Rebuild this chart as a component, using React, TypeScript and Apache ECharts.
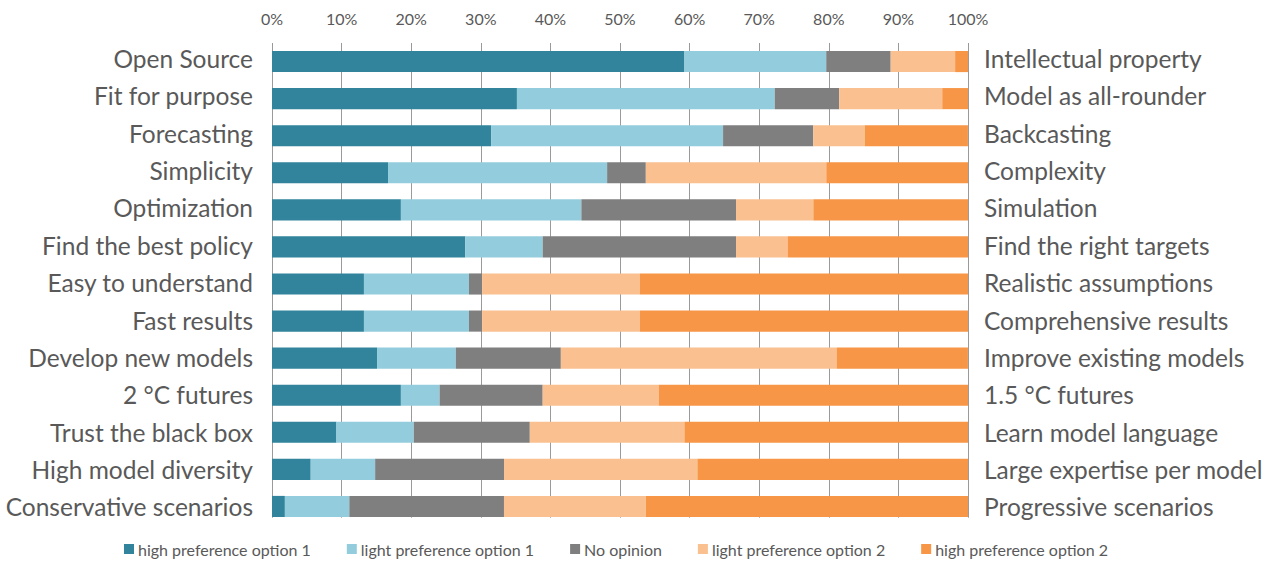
import React, { useEffect, useRef } from "react";
import * as echarts from "echarts";

const leftLabels = [
  "Open Source",
  "Fit for purpose",
  "Forecasting",
  "Simplicity",
  "Optimization",
  "Find the best policy",
  "Easy to understand",
  "Fast results",
  "Develop new models",
  "2 °C futures",
  "Trust the black box",
  "High model diversity",
  "Conservative scenarios",
];

const rightLabels = [
  "Intellectual property",
  "Model as all-rounder",
  "Backcasting",
  "Complexity",
  "Simulation",
  "Find the right targets",
  "Realistic assumptions",
  "Comprehensive results",
  "Improve existing models",
  "1.5 °C futures",
  "Learn model language",
  "Large expertise per model",
  "Progressive scenarios",
];

const tickLabels = ["0%", "10%", "20%", "30%", "40%", "50%", "60%", "70%", "80%", "90%", "100%"];

const seriesNames = [
  "high preference option 1",
  "light preference option 1",
  "No opinion",
  "light preference option 2",
  "high preference option 2",
];

// percentages per row (share of respondents)
const highPref1 = [59.26, 35.19, 31.48, 16.67, 18.52, 27.78, 13.21, 13.21, 15.09, 18.52, 9.26, 5.56, 1.85];
const lightPref1 = [20.37, 37.04, 33.33, 31.48, 25.93, 11.11, 15.09, 15.09, 11.32, 5.56, 11.11, 9.26, 9.26];
const noOpinion = [9.26, 9.26, 12.96, 5.56, 22.22, 27.78, 1.89, 1.89, 15.09, 14.81, 16.67, 18.52, 22.22];
const lightPref2 = [9.26, 14.81, 7.41, 25.93, 11.11, 7.41, 22.64, 22.64, 39.62, 16.67, 22.22, 27.78, 20.37];
const highPref2 = [1.85, 3.7, 14.81, 20.37, 22.22, 25.93, 47.17, 47.17, 18.87, 44.44, 40.74, 38.89, 46.3];

const colors = ["#31849B", "#93CDDD", "#7F7F7F", "#FAC090", "#F79646"];

const FONT = "Lato";

export default function App() {
  const ref = useRef<HTMLDivElement>(null);

  useEffect(() => {
    if (!ref.current) return;
    const chart = echarts.init(ref.current, undefined, { renderer: "svg" });
    const values = [highPref1, lightPref1, noOpinion, lightPref2, highPref2];
    const labelStyle = {
      fontFamily: FONT,
      fontSize: 24.5,
      color: "#595959",
      padding: [0, 0, 6, 0],
    };
    chart.setOption({
      animation: false,
      color: colors,
      textStyle: { fontFamily: FONT },
      grid: [
        { left: 272, right: 305, top: 43, bottom: 38 },
        { left: 272, right: 305, top: 43, bottom: 45.3 },
        { left: 272, right: 305, top: 39.8, bottom: 37.4 },
      ],
      legend: {
        left: 124,
        top: 541,
        padding: 0,
        itemWidth: 10,
        itemHeight: 10,
        itemGap: 36,
        icon: "rect",
        textStyle: { fontFamily: FONT, fontSize: 16, color: "#595959", padding: [0, 0, 0, -1] },
        data: seriesNames,
      },
      xAxis: [
        {
          type: "value",
          gridIndex: 0,
          position: "top",
          min: 0,
          max: 100,
          interval: 10,
          axisLine: { show: false },
          axisTick: { show: false },
          axisLabel: {
            margin: 17,
            fontFamily: FONT,
            fontSize: 16,
            color: "#595959",
            formatter: (v: number) => tickLabels[Math.round(v / 10)],
          },
          splitLine: { show: false },
        },
        {
          type: "value",
          gridIndex: 1,
          position: "top",
          min: 0,
          max: 100,
          interval: 10,
          axisLine: { show: false },
          axisTick: { show: false },
          axisLabel: { show: false },
          splitLine: { show: true, lineStyle: { color: "#9A9A9A", width: 1 } },
        },
        {
          type: "value",
          gridIndex: 2,
          min: 0,
          max: 100,
          show: false,
        },
      ],
      yAxis: [
        {
          type: "category",
          gridIndex: 0,
          inverse: true,
          data: leftLabels,
          show: false,
        },
        {
          type: "category",
          gridIndex: 1,
          inverse: true,
          data: leftLabels,
          show: false,
        },
        {
          type: "category",
          gridIndex: 2,
          inverse: true,
          data: leftLabels,
          axisLine: { show: false },
          axisTick: { show: false },
          splitLine: { show: false },
          axisLabel: { margin: 19, ...labelStyle },
        },
        {
          type: "category",
          gridIndex: 2,
          inverse: true,
          position: "right",
          data: rightLabels,
          axisLine: { show: false },
          axisTick: { show: false },
          splitLine: { show: false },
          axisLabel: { margin: 16, ...labelStyle },
        },
      ],
      series: seriesNames.map((name, i) => ({
        name,
        type: "bar",
        stack: "total",
        xAxisIndex: 0,
        yAxisIndex: 0,
        barWidth: "57%",
        data: values[i],
        itemStyle: { color: colors[i] },
      })),
    });
    return () => chart.dispose();
  }, []);

  return (
    <div
      ref={ref}
      style={{ position: "absolute", left: 0, top: 0, width: 1273, height: 563 }}
    />
  );
}
